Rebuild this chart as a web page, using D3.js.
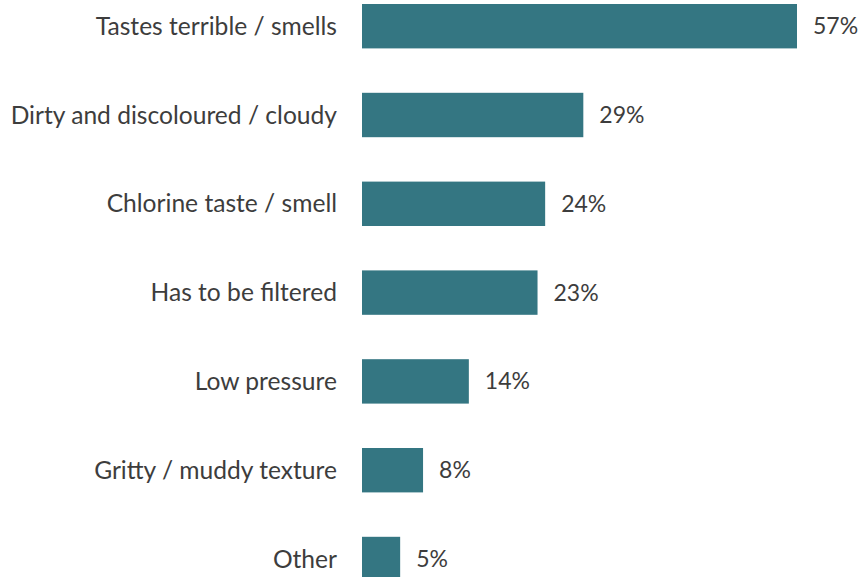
<!DOCTYPE html>
<html>
<head>
<meta charset="utf-8">
<script src="https://cdn.jsdelivr.net/npm/d3@7"></script>
<style>
  html, body { margin: 0; padding: 0; background: #ffffff; }
  svg { display: block; }
  text { font-family: Lato, "Open Sans", sans-serif; fill: #3d3d3d; }
</style>
</head>
<body>
<svg id="chart" width="863" height="577"></svg>
<script>
// Reported water quality problems (% of respondents)
const categories = [
  "Tastes terrible / smells",
  "Dirty and discoloured / cloudy",
  "Chlorine taste / smell",
  "Has to be filtered",
  "Low pressure",
  "Gritty / muddy texture",
  "Other"
];
const values = [57, 29, 24, 23, 14, 8, 5];

const svg = d3.select("#chart");
const left = 362;
const pxPerPct = 435 / 57;

const x = d3.scaleLinear()
  .domain([0, 57])
  .range([left, left + 57 * pxPerPct]);

const y = d3.scaleBand()
  .domain(categories)
  .range([-18.2, 603.4])
  .paddingInner(0.5)
  .paddingOuter(0.25);

const rows = svg.selectAll("g.row")
  .data(categories.map((c, i) => ({ c, v: values[i] })))
  .join("g")
  .attr("class", "row");

rows.append("rect")
  .attr("x", x(0))
  .attr("y", d => y(d.c))
  .attr("width", d => x(d.v) - x(0))
  .attr("height", y.bandwidth())
  .attr("fill", "#347682");

rows.append("text")
  .attr("x", x(0) - 25)
  .attr("y", d => y(d.c) + y.bandwidth() / 2)
  .attr("dy", "0.35em")
  .attr("text-anchor", "end")
  .attr("font-size", 24.6)
  .text(d => d.c);

rows.append("text")
  .attr("x", d => x(d.v) + 16)
  .attr("y", d => y(d.c) + y.bandwidth() / 2)
  .attr("dy", "0.35em")
  .attr("font-size", 23)
  .text(d => d.v + "%");
</script>
</body>
</html>
